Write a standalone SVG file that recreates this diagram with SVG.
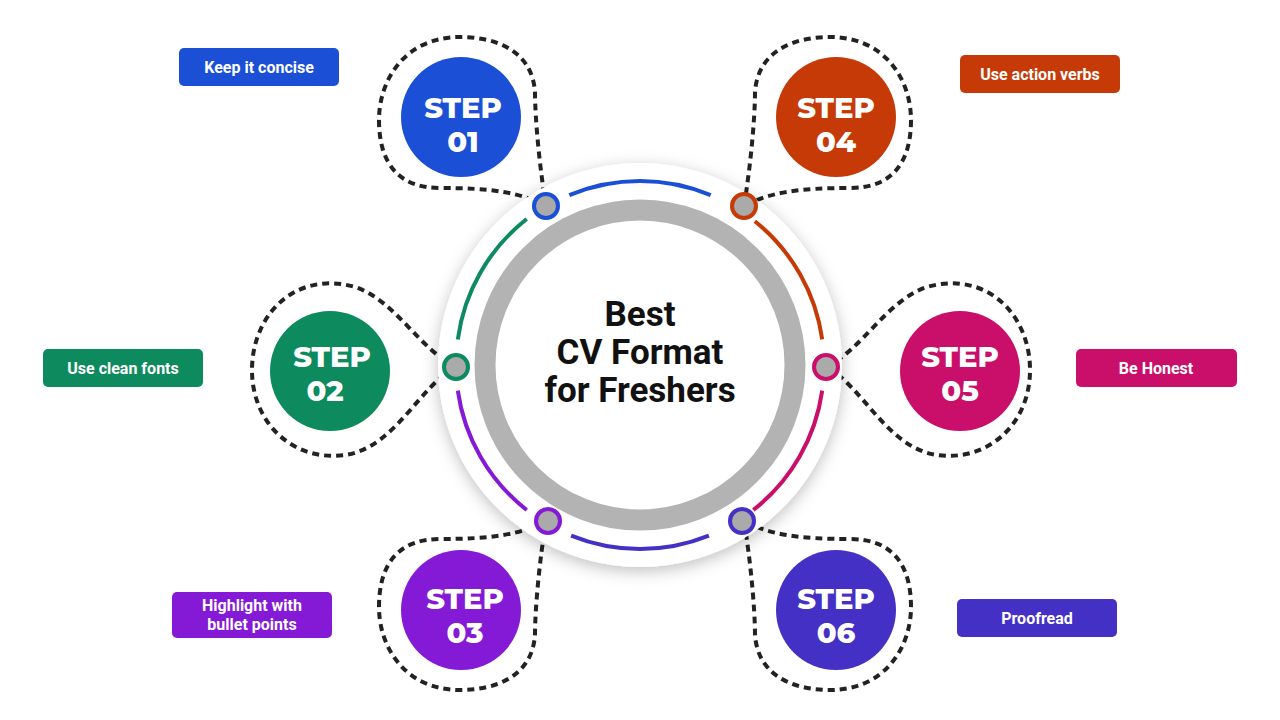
<svg xmlns="http://www.w3.org/2000/svg" width="1280" height="720" viewBox="0 0 1280 720">
<defs>
<filter id="sh" x="-20%" y="-20%" width="140%" height="140%"><feDropShadow dx="0" dy="4" stdDeviation="8" flood-color="#000" flood-opacity="0.25"/></filter>
<style>
.loop{fill:none;stroke:#222;stroke-width:4;stroke-dasharray:7 5}
.arc{fill:none;stroke-width:4}
.st{font-family:Montserrat,"Open Sans","Liberation Sans",sans-serif;font-weight:800;font-size:29px;fill:#fff;text-anchor:middle}
.lb{font-family:Roboto,"Liberation Sans",sans-serif;font-weight:700;font-size:16px;fill:#fff;text-anchor:middle}
.tt{font-family:Roboto,"Liberation Sans",sans-serif;font-weight:700;font-size:35px;fill:#111;text-anchor:middle}
.dot{fill:#aaa;stroke-width:4}
</style>
</defs>
<rect width="1280" height="720" fill="#fff"/>
<g id="connectors">
<path id="loop01" class="loop" d="M546,206 C540,170 535,120 535,92 C532,50 495,37 460,37 C405,37 379,80 379,120 C379,165 400,188 440,188 C490,188 520,192 546,206"/>
<path class="loop" transform="translate(1290,0) scale(-1,1)" d="M546,206 C540,170 535,120 535,92 C532,50 495,37 460,37 C405,37 379,80 379,120 C379,165 400,188 440,188 C490,188 520,192 546,206"/>
<path class="loop" transform="translate(0,727) scale(1,-1)" d="M546,206 C540,170 535,120 535,92 C532,50 495,37 460,37 C405,37 379,80 379,120 C379,165 400,188 440,188 C490,188 520,192 546,206"/>
<path class="loop" transform="translate(1290,727) scale(-1,-1)" d="M546,206 C540,170 535,120 535,92 C532,50 495,37 460,37 C405,37 379,80 379,120 C379,165 400,188 440,188 C490,188 520,192 546,206"/>
<path class="loop" d="M456,367 C420,350 395,300 355,287 C295,270 252,315 252,370 C252,425 295,462 345,455 C395,448 420,385 456,367"/>
<path class="loop" transform="translate(1282,0) scale(-1,1)" d="M456,367 C420,350 395,300 355,287 C295,270 252,315 252,370 C252,425 295,462 345,455 C395,448 420,385 456,367"/>
</g>
<g id="hub">
<circle cx="640" cy="365" r="202" fill="#fff" filter="url(#sh)"/>
<circle cx="640" cy="365" r="155" fill="none" stroke="#b3b3b3" stroke-width="21"/>
<path class="arc" stroke="#1a4fd6" d="M569.3,195.1 A184,184 0 0 1 710.7,195.1"/>
<path class="arc" stroke="#c53a06" d="M754.8,221.2 A184,184 0 0 1 822.2,339.4"/>
<path class="arc" stroke="#c90f69" d="M822.2,390.6 A184,184 0 0 1 753.3,510"/>
<path class="arc" stroke="#4530c6" d="M708.9,535.6 A184,184 0 0 1 571.1,535.6"/>
<path class="arc" stroke="#8419d6" d="M526.7,510 A184,184 0 0 1 457.8,390.6"/>
<path class="arc" stroke="#0d8a5e" d="M457.8,339.4 A184,184 0 0 1 526.7,219"/>
<circle class="dot" cx="546" cy="206" r="12" stroke="#1a4fd6"/>
<circle class="dot" cx="744" cy="206" r="12" stroke="#c53a06"/>
<circle class="dot" cx="826" cy="367" r="12" stroke="#c90f69"/>
<circle class="dot" cx="742" cy="521" r="12" stroke="#4530c6"/>
<circle class="dot" cx="548" cy="521" r="12" stroke="#8419d6"/>
<circle class="dot" cx="456" cy="367" r="12" stroke="#0d8a5e"/>
<text class="tt" x="640" y="326">Best</text>
<text class="tt" x="640" y="364">CV Format</text>
<text class="tt" x="640" y="402">for Freshers</text>
</g>
<g id="step01"><circle cx="461" cy="117" r="60" fill="#1a4fd6"/><text class="st" x="463" y="118">STEP</text><text class="st" x="463" y="152">01</text></g>
<g id="step02"><circle cx="330" cy="371" r="60" fill="#0d8a5e"/><text class="st" x="332" y="367">STEP</text><text class="st" x="325" y="401">02</text></g>
<g id="step03"><circle cx="461" cy="610" r="60" fill="#8419d6"/><text class="st" x="465" y="609">STEP</text><text class="st" x="465" y="643">03</text></g>
<g id="step04"><circle cx="836" cy="117" r="60" fill="#c53a06"/><text class="st" x="836" y="118">STEP</text><text class="st" x="836" y="152">04</text></g>
<g id="step05"><circle cx="960" cy="371" r="60" fill="#c90f69"/><text class="st" x="960" y="367">STEP</text><text class="st" x="960" y="401">05</text></g>
<g id="step06"><circle cx="836" cy="610" r="60" fill="#4530c6"/><text class="st" x="836" y="609">STEP</text><text class="st" x="836" y="643">06</text></g>
<g id="label01"><rect x="179" y="48" width="160" height="38" rx="5" fill="#1a4fd6"/><text class="lb" x="259" y="73">Keep it concise</text></g>
<g id="label04"><rect x="960" y="55" width="160" height="38" rx="5" fill="#c53a06"/><text class="lb" x="1040" y="80">Use action verbs</text></g>
<g id="label02"><rect x="43" y="349" width="160" height="38" rx="5" fill="#0d8a5e"/><text class="lb" x="123" y="374">Use clean fonts</text></g>
<g id="label05"><rect x="1076" y="349" width="161" height="38" rx="5" fill="#c90f69"/><text class="lb" x="1156" y="374">Be Honest</text></g>
<g id="label03"><rect x="172" y="592" width="160" height="46" rx="5" fill="#8419d6"/><text class="lb" x="252" y="611">Highlight with</text><text class="lb" x="252" y="630">bullet points</text></g>
<g id="label06"><rect x="957" y="599" width="160" height="38" rx="5" fill="#4530c6"/><text class="lb" x="1037" y="624">Proofread</text></g>
</svg>
